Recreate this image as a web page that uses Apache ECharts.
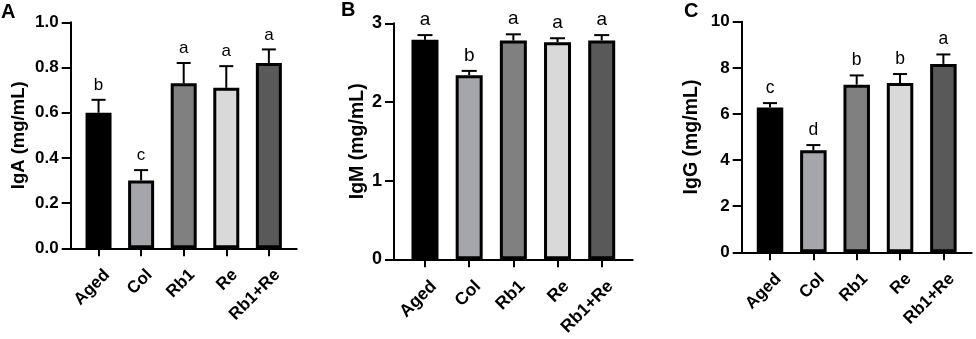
<!DOCTYPE html>
<html><head><meta charset="utf-8">
<script src="https://cdn.jsdelivr.net/npm/echarts@6/dist/echarts.min.js"></script>
<style>html,body{margin:0;padding:0;background:#fff}#c{width:976px;height:339px}</style>
</head><body><div id="c"></div>
<script>
const categories = ['Aged', 'Col', 'Rb1', 'Re', 'Rb1+Re'];
const barColors = ['#000000', '#a5a5ac', '#808080', '#d9d9d9', '#595959'];

const igaMean = [0.60, 0.30, 0.73, 0.71, 0.82];
const igaErr = [0.057, 0.046, 0.09, 0.096, 0.06];
const igaLetters = ['b', 'c', 'a', 'a', 'a'];

const igmMean = [2.79, 2.34, 2.78, 2.76, 2.78];
const igmErr = [0.06, 0.055, 0.08, 0.05, 0.07];
const igmLetters = ['a', 'b', 'a', 'a', 'a'];

const iggMean = [6.28, 4.42, 7.27, 7.34, 8.17];
const iggErr = [0.19, 0.23, 0.40, 0.39, 0.41];
const iggLetters = ['c', 'd', 'b', 'b', 'a'];

const panelLabels = ['A', 'B', 'C'];
const yNames = ['IgA (mg/mL)', 'IgM (mg/mL)', 'IgG (mg/mL)'];
const yMax = [1.0, 3, 10];
const yStep = [0.2, 1, 2];
const yDecimals = [1, 0, 0];

const FONT = '"Liberation Sans", Arial, Helvetica, sans-serif';

// layout (pixels)
const panels = [
  {axisX: 70.7, endX: 296.7, top: 22.3, bottom: 248.3, inset: 6.55, nameGap: 42, nameSize: 18.5, barW: 26, letterSize: 17, tickSize: 17, xSize: 17, capHW: 7, tag: [1, 2]},
  {axisX: 394, endX: 632.7, top: 23.3, bottom: 259.3, inset: 8.9, nameGap: 21, nameSize: 19.5, barW: 27, letterSize: 19, tickSize: 18, xSize: 17.5, capHW: 7.5, tag: [341, 0]},
  {axisX: 741.7, endX: 971.7, top: 21.7, bottom: 252.3, inset: 6.65, nameGap: 40, nameSize: 19.5, barW: 26.5, letterSize: 17.5, tickSize: 17, xSize: 17, capHW: 7, tag: [684, 1.5]}
];
const means = [igaMean, igmMean, iggMean];
const errs = [igaErr, igmErr, iggErr];
const letters = [igaLetters, igmLetters, iggLetters];

const grid = [], xAxis = [], yAxis = [], series = [], title = [];

panels.forEach((p, k) => {
  const h = p.bottom - p.top;
  grid.push({left: p.axisX, top: p.top, width: p.endX - p.axisX, height: h, outerBoundsMode: 'none'});
  grid.push({left: p.axisX + p.inset, top: p.top, width: p.endX - p.axisX - 2 * p.inset, height: h, outerBoundsMode: 'none'});
  const gi = 2 * k, bi = 2 * k + 1;
  xAxis.push({
    gridIndex: gi, type: 'category', data: [''],
    axisLine: {show: true, lineStyle: {color: '#000', width: 2}},
    axisTick: {show: false}, axisLabel: {show: false}, splitLine: {show: false}
  });
  xAxis.push({
    gridIndex: bi, type: 'category', data: categories,
    axisLine: {show: false},
    axisTick: {show: true, alignWithLabel: true, length: 8, lineStyle: {color: '#000', width: 2}},
    axisLabel: {rotate: 45, margin: 20.5, verticalAlign: 'top', align: 'right', interval: 0,
      padding: [0, -3.5, 0, 0],
      color: '#000', fontFamily: FONT, fontWeight: 'bold', fontSize: p.xSize},
    splitLine: {show: false}
  });
  yAxis.push({
    gridIndex: gi, type: 'value', min: 0, max: yMax[k], interval: yStep[k],
    name: yNames[k], nameLocation: 'middle', nameGap: p.nameGap, nameRotate: 90,
    nameTextStyle: {color: '#000', fontFamily: FONT, fontWeight: 'bold', fontSize: p.nameSize},
    axisLine: {show: true, lineStyle: {color: '#000', width: 2}},
    axisTick: {show: true, length: 9, lineStyle: {color: '#000', width: 2}},
    axisLabel: {margin: 12, color: '#000', fontFamily: FONT, fontWeight: 'bold', fontSize: p.tickSize,
      formatter: v => v.toFixed(yDecimals[k])},
    splitLine: {show: false}
  });
  yAxis.push({gridIndex: bi, type: 'value', min: 0, max: yMax[k], interval: yStep[k], show: false});

  series.push({
    type: 'bar', xAxisIndex: bi, yAxisIndex: bi, barWidth: p.barW, z: 2,
    data: means[k].map((v, i) => ({value: v, itemStyle: {color: barColors[i]}})),
    itemStyle: {borderColor: '#000', borderWidth: 3},
    emphasis: {disabled: true}, animation: false
  });
  const L = letters[k];
  series.push({
    type: 'custom', xAxisIndex: bi, yAxisIndex: bi, z: 3, animation: false,
    data: means[k].map((m, i) => [i, m, m + errs[k][i]]),
    renderItem(params, api) {
      const x = api.value(0);
      const p0 = api.coord([x, api.value(1)]);
      const p1 = api.coord([x, api.value(2)]);
      const hw = p.capHW;
      return {type: 'group', children: [
        {type: 'line', shape: {x1: p0[0], y1: p0[1], x2: p1[0], y2: p1[1]}, style: {stroke: '#000', lineWidth: 2}},
        {type: 'line', shape: {x1: p1[0] - hw, y1: p1[1], x2: p1[0] + hw, y2: p1[1]}, style: {stroke: '#000', lineWidth: 2}},
        {type: 'text', x: p1[0], y: p1[1] - 6, style: {text: L[params.dataIndex], fill: '#000',
          fontFamily: FONT, fontSize: p.letterSize, align: 'center', verticalAlign: 'bottom'}}
      ]};
    }
  });
  title.push({text: panelLabels[k], left: p.tag[0], top: p.tag[1], padding: 0,
    textStyle: {color: '#000', fontFamily: FONT, fontWeight: 'bold', fontSize: 20}});
});

const chart = echarts.init(document.getElementById('c'), null, {renderer: 'canvas'});
chart.setOption({animation: false, backgroundColor: '#fff', title, grid, xAxis, yAxis, series});
</script></body></html>
